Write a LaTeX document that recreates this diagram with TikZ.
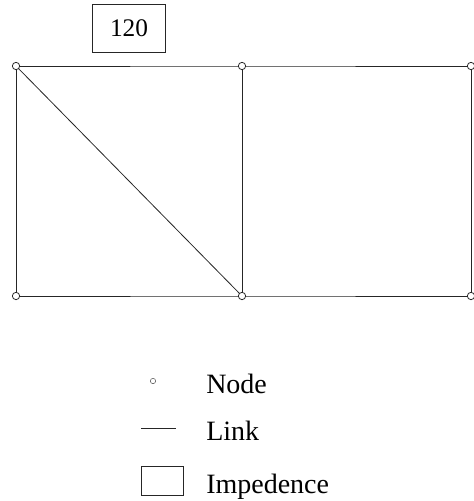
\documentclass[tikz,border=0pt]{standalone}
\usepackage{fontspec}
\setmainfont{Liberation Serif}
\begin{document}
\begin{tikzpicture}[x=0.75pt,y=-0.75pt,
  link/.style={draw=black!85,line width=0.6pt},
  netnode/.style={circle,draw=black!85,fill=white,line width=0.6pt,inner sep=0pt,minimum size=5.5pt},
  legnode/.style={circle,draw=black!70,fill=white,line width=0.4pt,inner sep=0pt,minimum size=4pt},
  imped/.style={draw=black!85,line width=0.6pt,inner sep=0pt},
  lbl/.style={anchor=base west,inner sep=0pt,font=\fontsize{21}{24}\selectfont}]
\useasboundingbox (0,0) rectangle (474,501);
% impedance box
\node[imped,minimum width=55pt,minimum height=36pt,font=\fontsize{19}{22}\selectfont] (imp) at (129,28) {120};
% nodes
\coordinate (pa) at (16,66);
\coordinate (pb) at (242,66);
\coordinate (pc) at (471,66);
\coordinate (pd) at (16,296);
\coordinate (pe) at (242,296);
\coordinate (pf) at (471,296);
\draw[link] (pa) -- (pb) -- (pc) -- (pf) -- (pe) -- (pd) -- (pa);
\draw[link] (pb) -- (pe);
\draw[link] (pa) -- (pe);
\foreach \p in {pa,pb,pc,pd,pe,pf} \node[netnode] (n\p) at (\p) {};
% legend
\node[legnode] (lnode) at (153,381) {};
\node[lbl] (tnode) at (206,393) {Node};
\coordinate (ls) at (141,428);
\coordinate (le) at (176,428);
\draw[link] (ls) -- (le);
\node[lbl] (tlink) at (206,440) {Link};
\node[imped,minimum width=31.5pt,minimum height=22pt] (limp) at (162,481) {};
\node[lbl] (timp) at (206,493) {Impedence};
\end{tikzpicture}
\end{document}
